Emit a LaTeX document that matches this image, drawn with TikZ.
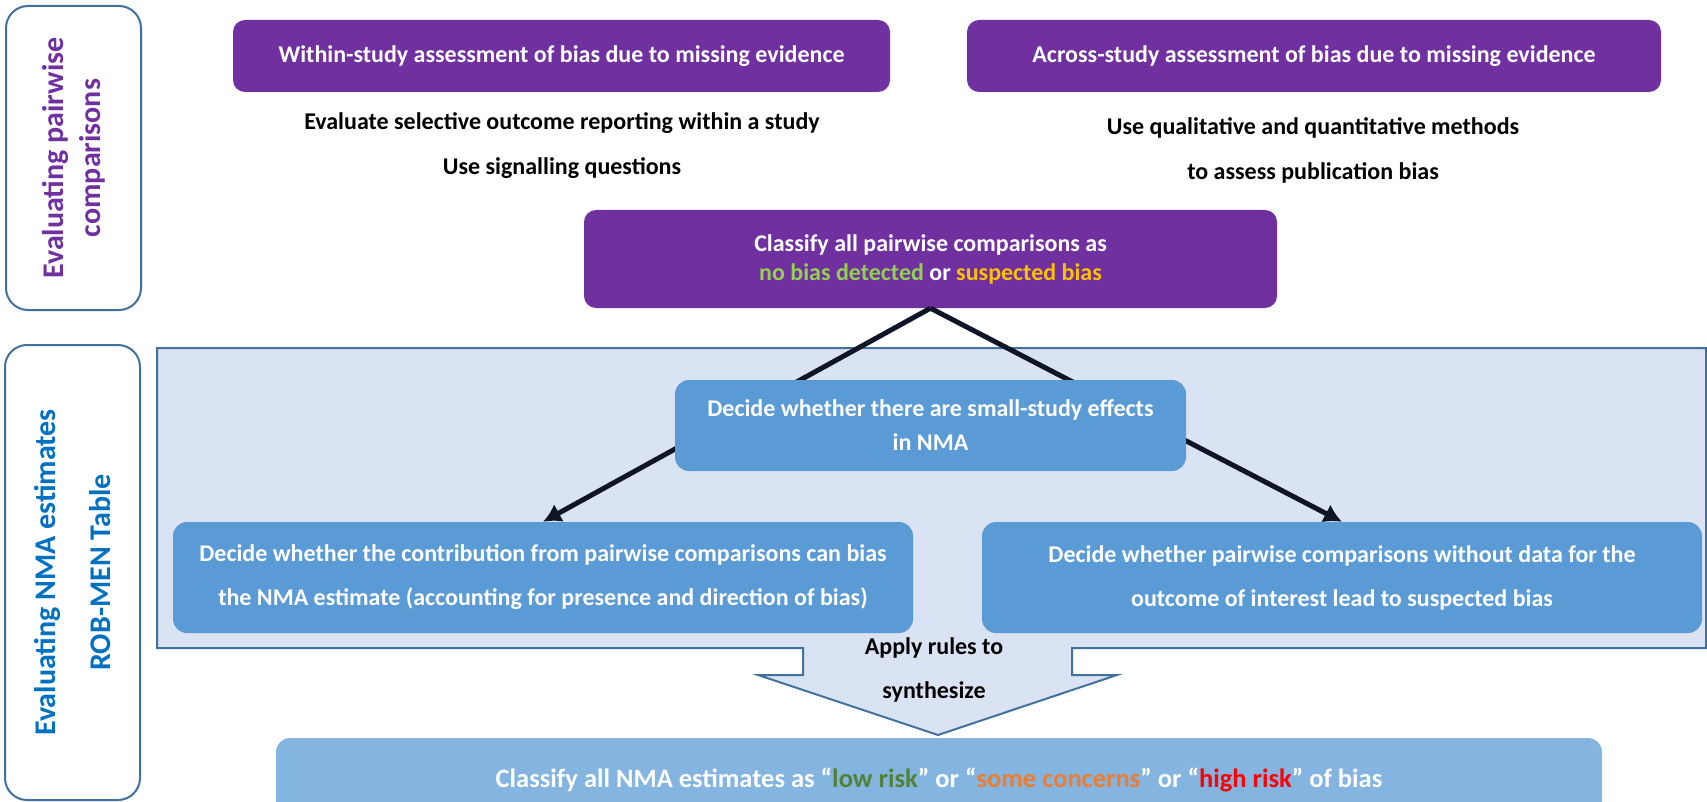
\documentclass[tikz,border=0pt]{standalone}
\usepackage{fontspec}
\setmainfont{Carlito}
\usepackage{xcolor}
\definecolor{rmpurple}{HTML}{7030A0}
\definecolor{rmblue}{HTML}{5B9BD5}
\definecolor{rmpale}{HTML}{DAE3F3}
\definecolor{rmedge}{HTML}{41719C}
\definecolor{rmlight}{HTML}{84B4E0}
\definecolor{rmtitle}{HTML}{0070C0}
\definecolor{rmline}{HTML}{0D1526}
\definecolor{nobias}{HTML}{92D050}
\definecolor{suspect}{HTML}{FFC000}
\definecolor{lowrisk}{HTML}{548235}
\definecolor{concern}{HTML}{ED7D31}
\definecolor{highrisk}{HTML}{FF0000}
\usetikzlibrary{arrows.meta}
\tikzset{>={Latex[length=18pt,width=20pt]},
    stagebox/.style={draw=rmedge, line width=2pt, rounded corners=22pt, fill=white, rotate=90, align=center, font=\fontsize{30}{37}\selectfont\bfseries},
    purplebox/.style={fill=rmpurple, rounded corners=12pt, text=white, align=center, font=\fontsize{24}{29}\selectfont\bfseries},
    bluebox/.style={fill=rmblue, rounded corners=14pt, text=white, align=center, font=\fontsize{24}{44}\selectfont\bfseries},
    note/.style={align=center, font=\fontsize{24}{45}\selectfont\bfseries}}

\begin{document}
\begin{tikzpicture}[x=1pt, y=-1pt]
    \useasboundingbox (0,0) rectangle (1707,802);
    \clip (0,0) rectangle (1707,802);
    \fill[white] (0,0) rectangle (1707,802);
    \node[stagebox, text=rmpurple, minimum width=304pt, minimum height=135pt] (pairstage) at (73.5,158) {Evaluating pairwise\\comparisons};
    \node[stagebox, text=rmtitle, minimum width=455pt, minimum height=135pt, font=\fontsize{30}{55}\selectfont\bfseries] (nmastage) at (72.5,572.5) {Evaluating NMA estimates\\ROB-MEN Table};
    \path[fill=rmpale, draw=rmedge, line width=2pt] (157,348) -- (1706,348) -- (1706,648) -- (1072,648) -- (1072,675) -- (1117,675) -- (938,735) -- (758,675) -- (803,675) -- (803,648) -- (157,648) -- cycle;
    \node[purplebox, minimum width=657pt, minimum height=72pt] (within) at (561.5,56) {Within-study assessment of bias due to missing evidence};
    \node[purplebox, minimum width=694pt, minimum height=72pt] (across) at (1314,56) {Across-study assessment of bias due to missing evidence};
    \node[note] (withinnote) at (562,146) {Evaluate selective outcome reporting within a study\\Use signalling questions};
    \node[note] (acrossnote) at (1313,150) {Use qualitative and quantitative methods\\to assess publication bias};
    \node[purplebox, minimum width=693pt, minimum height=98pt] (pairclass) at (930.5,259) {Classify all pairwise comparisons as\\\textcolor{nobias}{no bias detected} or \textcolor{suspect}{suspected bias}};
    \node[bluebox, minimum width=740pt, minimum height=111pt] (contrib) at (543,577.5) {Decide whether the contribution from pairwise comparisons can bias\\the NMA estimate (accounting for presence and direction of bias)};
    \node[bluebox, minimum width=720pt, minimum height=111pt] (nodata) at (1342,577.5) {Decide whether pairwise comparisons without data for the\\outcome of interest lead to suspected bias};
    \draw[->, line width=5pt, rmline] (pairclass.south) -- (contrib.north);
    \draw[->, line width=5pt, rmline] (pairclass.south) -- (nodata.north);
    \node[bluebox, minimum width=511pt, minimum height=91pt, font=\fontsize{24}{34}\selectfont\bfseries] (smallstudy) at (930.5,425.5) {Decide whether there are small-study effects\\in NMA};
    \node[note, font=\fontsize{24}{44}\selectfont\bfseries] (synth) at (934,670) {Apply rules to\\synthesize};
    \node[bluebox, fill=rmlight, minimum width=1326pt, minimum height=84pt, font=\fontsize{26.5}{32}\selectfont\bfseries] (nmaclass) at (939,780) {Classify all NMA estimates as “\textcolor{lowrisk}{low risk}” or “\textcolor{concern}{some concerns}” or “\textcolor{highrisk}{high risk}” of bias};
\end{tikzpicture}
\end{document}
